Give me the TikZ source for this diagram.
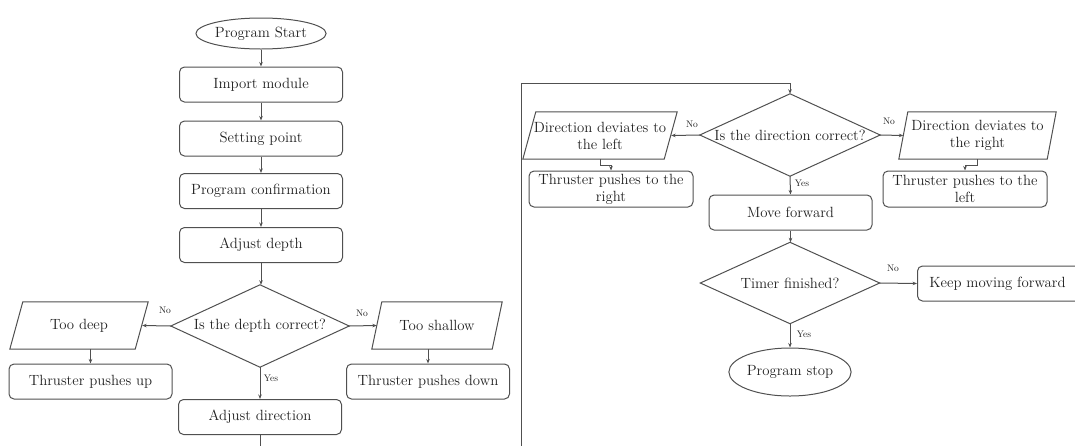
\documentclass[tikz,border=0pt]{standalone}
\usetikzlibrary{shapes.geometric,arrows.meta}
\definecolor{ln}{HTML}{505050}
\definecolor{tx}{HTML}{202020}
\tikzset{
  txt/.style={font=\fontsize{14.8}{17}\selectfont, text=tx, align=center, inner sep=0pt},
  box/.style={txt, draw=ln, line width=1pt, rounded corners=5pt, minimum width=163pt, minimum height=35pt},
  term/.style={txt, ellipse, draw=ln, line width=1pt, inner sep=0pt},
  ghost/.style={txt, rectangle, minimum width=#1},
  shp/.style={draw=ln, line width=1pt, line join=miter},
  arr/.style={draw=ln, line width=1pt, -{Stealth[length=4.5pt,width=3.5pt]}},
  ln/.style={draw=ln, line width=1pt},
  lab/.style={font=\fontsize{9.5}{10}\selectfont, text=tx, inner sep=0pt},
}
\newcommand\drawpara[2]{\draw[shp] ([xshift=#2]#1.north west) -- (#1.north east) -- ([xshift=-#2]#1.south east) -- (#1.south west) -- cycle;}
\newcommand\drawdiam[1]{\draw[shp] (#1.north) -- (#1.east) -- (#1.south) -- (#1.west) -- cycle;}
\begin{document}
\begin{tikzpicture}[x=1pt,y=-1pt]
\useasboundingbox (0,0) rectangle (1075,445);
% ---------- left column ----------
\node[term, minimum width=120pt, minimum height=31pt] (start) at (261,33.5) {Program Start};
\node[box] (imp) at (261,84.5) {Import module};
\node[box] (set) at (261,138.5) {Setting point};
\node[box] (conf) at (261,191) {Program confirmation};
\node[box] (adjd) at (261,245) {Adjust depth};
\node[ghost=178pt, minimum height=82pt] (dq) at (260,326) {Is the depth correct?};
\drawdiam{dq}
\node[ghost=138pt, minimum height=47pt] (deep) at (79,325.5) {Too deep};
\drawpara{deep}{13pt}
\node[ghost=130pt, minimum height=47pt] (shal) at (437,325.5) {Too shallow};
\drawpara{shal}{10pt}
\node[box] (tpu) at (90.5,381.5) {Thruster pushes up};
\node[box] (tpd) at (428,381.5) {Thruster pushes down};
\node[box] (adir) at (260,417) {Adjust direction};
\coordinate (lend) at (260,450);
\draw[arr] (start) -- (imp);
\draw[arr] (imp) -- (set);
\draw[arr] (set) -- (conf);
\draw[arr] (conf) -- (adjd);
\draw[arr] (adjd.south) -- (adjd.south |- dq.north);
\draw[arr] (dq.west) -- ([xshift=-6pt]deep.east);
\draw[arr] (dq.east) -- ([xshift=5pt]shal.west);
\draw[arr] (tpu.north |- deep.south) -- (tpu.north);
\draw[arr] (tpd.north |- shal.south) -- (tpd.north);
\draw[arr] (dq.south) -- (adir.north);
\draw[ln] (adir.south) -- (lend);
\node[lab] (n1) at (165,310) {No};
\node[lab] (n2) at (362,313) {No};
\node[lab] (y1) at (271,378) {Yes};
% ---------- right column ----------
\coordinate (rbot) at (521,450);
\coordinate (rtop) at (521,83);
\node[ghost=180pt, minimum height=82pt] (dirq) at (790,135) {Is the direction correct?};
\drawdiam{dirq}
\node[ghost=154pt, minimum height=47pt] (dl) at (600,135.5) {Direction deviates to\\the left};
\drawpara{dl}{13pt}
\node[ghost=157pt, minimum height=47pt] (dr) at (977.5,135.5) {Direction deviates to\\the right};
\drawpara{dr}{9pt}
\node[box, minimum width=164pt, minimum height=36pt] (tr) at (611,189) {Thruster pushes to the\\right};
\node[box, minimum width=164pt, minimum height=36pt] (tl) at (965,189) {Thruster pushes to the\\left};
\node[box] (mf) at (790.5,212.5) {Move forward};
\node[ghost=179pt, minimum height=81pt] (tq) at (790,283) {Timer finished?};
\drawdiam{tq}
\node[box, minimum width=164pt, anchor=west] (kmf) at (917,283.5) {\hspace*{-4pt}Keep moving forward};
\node[term, minimum width=119pt, minimum height=48pt] (stop) at (790,372) {Program stop};
\draw[ln] (rbot) -- (rtop);
\draw[arr] (rtop) -| (dirq.north);
\draw[arr] (dirq.west) -- ([xshift=-6pt]dl.east);
\draw[arr] (dirq.east) -- ([xshift=4.5pt]dr.west);
\draw[arr] (dl.south) -- ++(0,6) -| (tr.north);
\draw[arr] (dr.south) -- ++(0,6) -| (tl.north);
\draw[arr] (dirq.south) -- (mf.north);
\draw[arr] (mf.south) -- (mf.south |- tq.north);
\draw[arr] (tq.east) -- (kmf.west);
\draw[arr] (tq.south) -- (stop.north);
\node[lab] (n3) at (692,124) {No};
\node[lab] (n4) at (889,121) {No};
\node[lab] (y2) at (802,183) {Yes};
\node[lab] (n5) at (893,268) {No};
\node[lab] (y3) at (804,334) {Yes};
\end{tikzpicture}
\end{document}
